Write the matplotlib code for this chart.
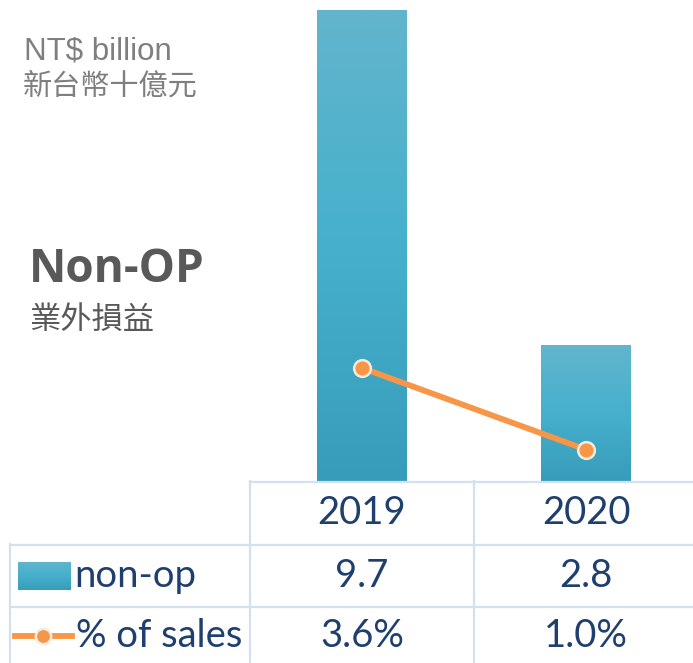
import numpy as np
import matplotlib
matplotlib.use("Agg")
import matplotlib.pyplot as plt
from matplotlib.lines import Line2D
from matplotlib.colors import LinearSegmentedColormap
from matplotlib.transforms import blended_transform_factory

# Data
years = ["2019", "2020"]
non_op = [9.7, 2.8]
pct_sales = [3.6, 1.0]
non_op_labels = ["9.7", "2.8"]
pct_labels = ["3.6%", "1.0%"]

W, H = 693, 663
fig = plt.figure(figsize=(W / 100, H / 100), dpi=100)

def fx(px):
    return px / W

def fy(py):
    return 1 - py / H

grad_cmap = LinearSegmentedColormap.from_list("g", ["#379cb9", "#46b0cd", "#62b5cc"])
grad = np.linspace(0, 1, 256).reshape(-1, 1)

# Chart area: bars centred on the table columns
ax = fig.add_axes([fx(250), fy(481), fx(448), (481 - 10) / H])
x = np.arange(len(years))
bars = ax.bar(x, non_op, width=0.40, color="#46aecb", zorder=2)
ax.set_xlim(-0.5, 1.5)
ax.set_ylim(0, 9.7)
ax.axis("off")

# vertical gradient on bars
for b in bars:
    bx, by = b.get_x(), b.get_y()
    bw, bh = b.get_width(), b.get_height()
    im = ax.imshow(grad, cmap=grad_cmap, origin="lower", aspect="auto",
                   extent=[bx, bx + bw, by, by + bh], zorder=3)
    im.set_clip_path(b)

ax2 = ax.twinx()
ax2.plot(x, pct_sales, color="#f79646", lw=4.2, marker="o", ms=12,
         mfc="#f79646", mec="#f3ecdf", mew=1.8, zorder=5, solid_capstyle="round")
ax2.set_ylim(0, 15)
ax2.set_xlim(-0.5, 1.5)
ax2.axis("off")

# Table grid
grid_c = "#d3e0f0"
def hline(y, x0, x1):
    fig.add_artist(Line2D([fx(x0), fx(x1)], [fy(y), fy(y)], color=grid_c, lw=1.6))

def vline(xp, y0, y1):
    fig.add_artist(Line2D([fx(xp), fx(xp)], [fy(y0), fy(y1)], color=grid_c, lw=1.6))

hline(481.5, 250, 693)
hline(544.5, 10, 693)
hline(606.5, 10, 693)
vline(250, 481, 663)
vline(474, 481, 663)
vline(10, 544, 663)

# Table text
txt_c = "#1f3f6e"
tfont = "Lato"
fs = 27.5
trans = blended_transform_factory(ax.transData, fig.transFigure)
for i in range(len(years)):
    fig.text(x[i], fy(513), years[i], transform=trans, ha="center", va="center",
             fontsize=fs, color=txt_c, family=tfont)
    fig.text(x[i], fy(576), non_op_labels[i], transform=trans, ha="center", va="center",
             fontsize=fs, color=txt_c, family=tfont)
    fig.text(x[i], fy(636), pct_labels[i], transform=trans, ha="center", va="center",
             fontsize=fs, color=txt_c, family=tfont)

fig.text(fx(74), fy(576), "non-op", ha="left", va="center", fontsize=fs,
         color=txt_c, family=tfont)
fig.text(fx(76), fy(636), "% of sales", ha="left", va="center", fontsize=fs,
         color=txt_c, family=tfont)

# Legend keys
lax = fig.add_axes([fx(18), fy(590), fx(52), (590 - 562) / H])
lax.imshow(grad, cmap=grad_cmap, origin="lower", aspect="auto")
lax.axis("off")
fig.add_artist(Line2D([fx(15), fx(72)], [fy(636), fy(636)], color="#f79646", lw=4.2))
fig.add_artist(Line2D([fx(43)], [fy(636)], marker="o", ms=11, mfc="#f79646",
                      mec="#f3ecdf", mew=1.8))

# Left captions
fig.text(fx(24), fy(51), "NT$ billion", ha="left", va="center", fontsize=22.5,
         color="#7f7f7f", family="Liberation Sans")
fig.text(fx(23), fy(87), "新台幣十億元", ha="left", va="center", fontsize=21,
         color="#7f7f7f", family=["Noto Sans CJK TC", "DejaVu Sans"])
fig.text(fx(29), fy(270), "Non-OP", ha="left", va="center", fontsize=33,
         color="#595959", weight="bold", family="Open Sans")
fig.text(fx(29), fy(320), "業外損益", ha="left", va="center", fontsize=22.5,
         color="#595959", family=["Noto Sans CJK TC", "DejaVu Sans"])

fig.savefig("out.png", dpi=100)
